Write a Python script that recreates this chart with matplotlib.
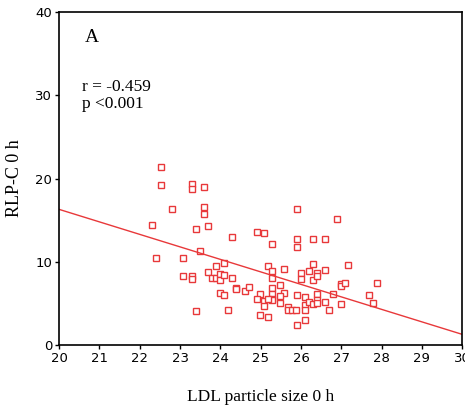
import matplotlib
matplotlib.use("Agg")
import matplotlib.pyplot as plt

# LDL particle size (nm) vs RLP-C
ldl_size = [22.52, 22.52, 22.81, 22.31, 22.40, 23.29, 23.29, 23.59, 23.59, 23.59,
            23.39, 23.69, 23.49, 23.07, 23.07, 23.29, 23.29, 23.39, 23.69, 23.79,
            23.89, 23.89, 23.99, 23.99, 24.10, 24.10, 23.99, 24.10, 24.20, 24.30,
            24.30, 24.40, 24.40, 24.60, 24.71, 24.90, 25.08, 25.28, 25.18, 25.28,
            25.28, 24.98, 24.90, 25.08, 25.08, 24.98, 25.18, 25.28, 25.28, 25.28,
            25.28, 25.18, 25.48, 25.58, 25.58, 25.48, 25.48, 25.68, 25.68, 25.78,
            25.88, 25.89, 25.89, 25.89, 25.89, 25.89, 25.99, 25.99, 26.09, 26.09,
            26.09, 26.09, 26.19, 26.19, 26.29, 26.29, 26.29, 26.29, 26.40, 26.40,
            26.40, 26.40, 26.40, 26.60, 26.60, 26.60, 26.70, 26.80, 26.90, 27.00,
            27.00, 27.00, 27.10, 27.17, 27.68, 27.78, 27.88]
rlp_c = [21.4, 19.2, 16.4, 14.4, 10.5, 19.4, 18.7, 19.0, 16.6, 15.8,
         14.0, 14.3, 11.3, 10.5, 8.3, 8.3, 8.0, 4.1, 8.8, 8.1,
         9.5, 8.1, 8.5, 7.8, 9.9, 8.4, 6.3, 6.0, 4.2, 13.0,
         8.1, 6.9, 6.8, 6.5, 7.0, 13.6, 13.5, 12.2, 9.5, 8.9,
         8.1, 6.1, 5.5, 5.3, 4.7, 3.6, 3.4, 6.9, 6.2, 5.6,
         5.4, 5.5, 7.2, 9.2, 6.3, 5.9, 5.1, 4.6, 4.2, 4.2,
         4.2, 16.3, 12.7, 11.8, 6.0, 2.4, 8.7, 8.0, 5.8, 4.8,
         4.2, 3.0, 8.9, 5.2, 12.7, 9.8, 7.8, 4.9, 8.7, 8.3,
         6.2, 5.4, 5.1, 12.7, 9.0, 5.2, 4.2, 6.2, 15.2, 5.0,
         7.3, 7.1, 7.5, 9.6, 6.0, 5.1, 7.5]

# regression line end points
fit_x = [20, 30]
fit_y = [16.3, 1.3]

fig = plt.figure(figsize=(4.65, 4.09), dpi=100)
ax = fig.add_axes([0.127, 0.156, 0.867, 0.815])

red = "#e8383a"
ax.plot(ldl_size, rlp_c, linestyle="none", marker="s", markersize=4.2,
        markerfacecolor="white", markeredgecolor=red, markeredgewidth=1.0)
ax.plot(fit_x, fit_y, color=red, linewidth=1.0)

ax.set_xlim(20, 30)
ax.set_ylim(0, 40)
ax.set_xticks(range(20, 31))
ax.set_yticks(range(0, 41, 10))
ax.tick_params(direction="out", length=3, width=1, labelsize=9.5, pad=2)
for s in ax.spines.values():
    s.set_linewidth(1.2)

serif = "Liberation Serif"
ax.set_xlabel("LDL particle size 0 h", family=serif, fontsize=12.5, labelpad=17)
ax.set_ylabel("RLP-C 0 h", family=serif, fontsize=13, labelpad=9)

ax.text(0.064, 0.91, "A", transform=ax.transAxes, family=serif, fontsize=14)
ax.text(0.058, 0.80, "r = -0.459\np <0.001", transform=ax.transAxes,
        family=serif, fontsize=12.5, va="top", linespacing=1.15)

fig.savefig("out.png", dpi=100)
